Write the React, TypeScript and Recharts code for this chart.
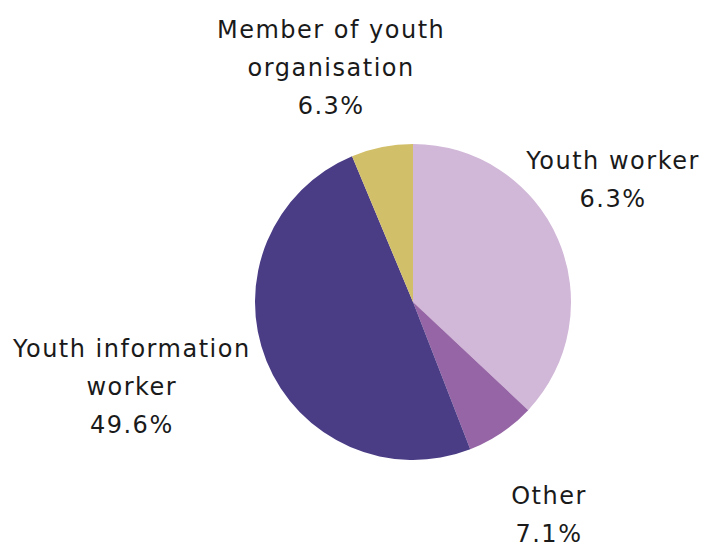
import { PieChart, Pie, Cell } from "recharts";

// slice values (% share)
const categories = [
  "Youth worker",
  "Other",
  "Youth information worker",
  "Member of youth organisation",
];
const shares = [37.0, 7.1, 49.6, 6.3];
// percentages as printed on the chart
const printedPercents = ["6.3%", "7.1%", "49.6%", "6.3%"];
const labelLines = [
  ["Youth worker"],
  ["Other"],
  ["Youth information", "worker"],
  ["Member of youth", "organisation"],
];

const colors = ["#D1B7D8", "#9665A5", "#4B3C86", "#D2BF69"];
// nudges of each label block away from its anchor on the slice's mid angle
const labelNudge = [
  [0, -35],
  [14, 32],
  [-79, 3],
  [-39, -20],
];

const RADIAN = Math.PI / 180;
const LINE_H = 38;

const data = categories.map((name, i) => ({ name, value: shares[i] }));

function renderLabel(props: any) {
  const { cx, cy, midAngle, outerRadius, index } = props;
  const r = outerRadius + 60;
  const x = cx + r * Math.cos(-midAngle * RADIAN) + labelNudge[index][0];
  const yMid = cy + r * Math.sin(-midAngle * RADIAN) + labelNudge[index][1];
  const lines = [...labelLines[index], printedPercents[index]];
  const firstBase = yMid - ((lines.length - 1) * LINE_H) / 2 + 8;
  return (
    <text
      x={x}
      y={firstBase}
      textAnchor="middle"
      fill="#1a1a1a"
      fontSize={24}
      letterSpacing={1.5}
      fontFamily="'DejaVu Sans', sans-serif"
    >
      {lines.map((l, k) => (
        <tspan key={k} x={x} dy={k === 0 ? 0 : LINE_H}>
          {l}
        </tspan>
      ))}
    </text>
  );
}

export default function App() {
  return (
    <div style={{ position: "absolute", left: 0, top: 0, background: "#fff" }}>
      <PieChart
        width={709}
        height={547}
        margin={{ top: 0, right: 0, bottom: 0, left: 0 }}
      >
        <Pie
          data={data}
          dataKey="value"
          cx={413}
          cy={302}
          outerRadius={158}
          startAngle={90}
          endAngle={-270}
          stroke="none"
          label={renderLabel}
          labelLine={false}
          isAnimationActive={false}
        >
          {data.map((d, i) => (
            <Cell key={d.name} fill={colors[i]} />
          ))}
        </Pie>
      </PieChart>
    </div>
  );
}
